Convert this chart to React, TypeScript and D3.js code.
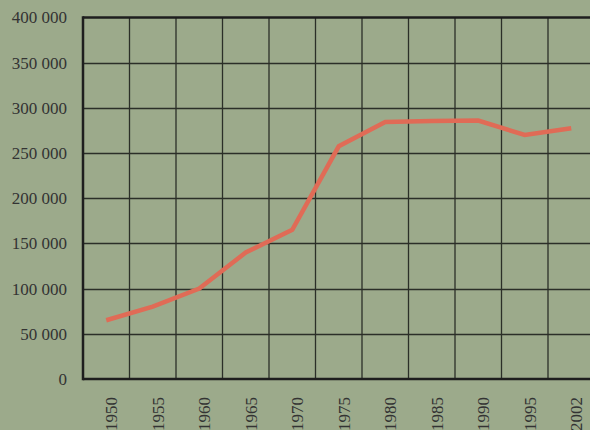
import React, { useEffect, useRef } from "react";
import * as d3 from "d3";

const years = ["1950", "1955", "1960", "1965", "1970", "1975", "1980", "1985", "1990", "1995", "2002"];
const population = [65000, 80000, 100000, 140000, 165000, 257500, 284500, 285500, 286000, 270000, 277500];
const yTicks = [0, 50000, 100000, 150000, 200000, 250000, 300000, 350000, 400000];

const width = 590;
const height = 430;
const margin = { top: 17.5, left: 83, bottom: 379 };

const App = () => {
  const svgRef = useRef<SVGSVGElement>(null);

  useEffect(() => {
    const svg = d3.select(svgRef.current);
    svg.selectAll("*").remove();

    const x = d3
      .scaleBand()
      .domain(years)
      .range([margin.left, margin.left + 46.5 * years.length])
      .paddingInner(0)
      .paddingOuter(0);

    const y = d3.scaleLinear().domain([0, 400000]).range([margin.bottom, margin.top]);

    svg.append("rect").attr("width", width).attr("height", height).attr("fill", "#9caa8b");

    // horizontal grid
    svg
      .selectAll(".hgrid")
      .data(yTicks.slice(1, -1))
      .enter()
      .append("line")
      .attr("x1", margin.left)
      .attr("x2", width)
      .attr("y1", (d) => Math.round(y(d)) + 0.5)
      .attr("y2", (d) => Math.round(y(d)) + 0.5)
      .attr("stroke", "#2b2f28")
      .attr("stroke-width", 1.3);

    // vertical grid
    svg
      .selectAll(".vgrid")
      .data(years.slice(1))
      .enter()
      .append("line")
      .attr("x1", (d) => x(d)!)
      .attr("x2", (d) => x(d)!)
      .attr("y1", margin.top)
      .attr("y2", margin.bottom)
      .attr("stroke", "#2b2f28")
      .attr("stroke-width", 1.3);

    // frame
    svg
      .append("line")
      .attr("x1", margin.left)
      .attr("x2", width)
      .attr("y1", margin.top)
      .attr("y2", margin.top)
      .attr("stroke", "#1e1e1e")
      .attr("stroke-width", 2.5);
    svg
      .append("line")
      .attr("x1", margin.left)
      .attr("x2", width)
      .attr("y1", margin.bottom)
      .attr("y2", margin.bottom)
      .attr("stroke", "#1e1e1e")
      .attr("stroke-width", 2.5);
    svg
      .append("line")
      .attr("x1", margin.left)
      .attr("x2", margin.left)
      .attr("y1", margin.top - 1.25)
      .attr("y2", margin.bottom + 1.25)
      .attr("stroke", "#1e1e1e")
      .attr("stroke-width", 2.5);

    // y labels
    svg
      .selectAll(".ylab")
      .data(yTicks)
      .enter()
      .append("text")
      .attr("x", 67)
      .attr("y", (d) => y(d))
      .attr("dy", "0.35em")
      .attr("text-anchor", "end")
      .attr("font-family", "'Liberation Serif', serif")
      .attr("font-size", 17)
      .attr("fill", "#333")
      .text((d) => d3.format(",")(d).replace(/,/g, " "));

    // x labels
    svg
      .selectAll(".xlab")
      .data(years)
      .enter()
      .append("text")
      .attr("transform", (d) => `translate(${x(d)! + x.bandwidth() / 2 + 11},397) rotate(-90)`)
      .attr("text-anchor", "end")
      .attr("font-family", "'Liberation Serif', serif")
      .attr("font-size", 17)
      .attr("fill", "#333")
      .text((d) => d);

    // line
    const line = d3
      .line<number>()
      .x((d, i) => x(years[i])! + x.bandwidth() / 2)
      .y((d) => y(d));

    svg
      .append("path")
      .datum(population)
      .attr("d", line)
      .attr("fill", "none")
      .attr("stroke", "#e06b56")
      .attr("stroke-width", 4.5)
      .attr("stroke-linejoin", "miter");
  }, []);

  return (
    <svg
      ref={svgRef}
      width={width}
      height={height}
      style={{ position: "absolute", left: 0, top: 0 }}
    ></svg>
  );
};

export default App;
